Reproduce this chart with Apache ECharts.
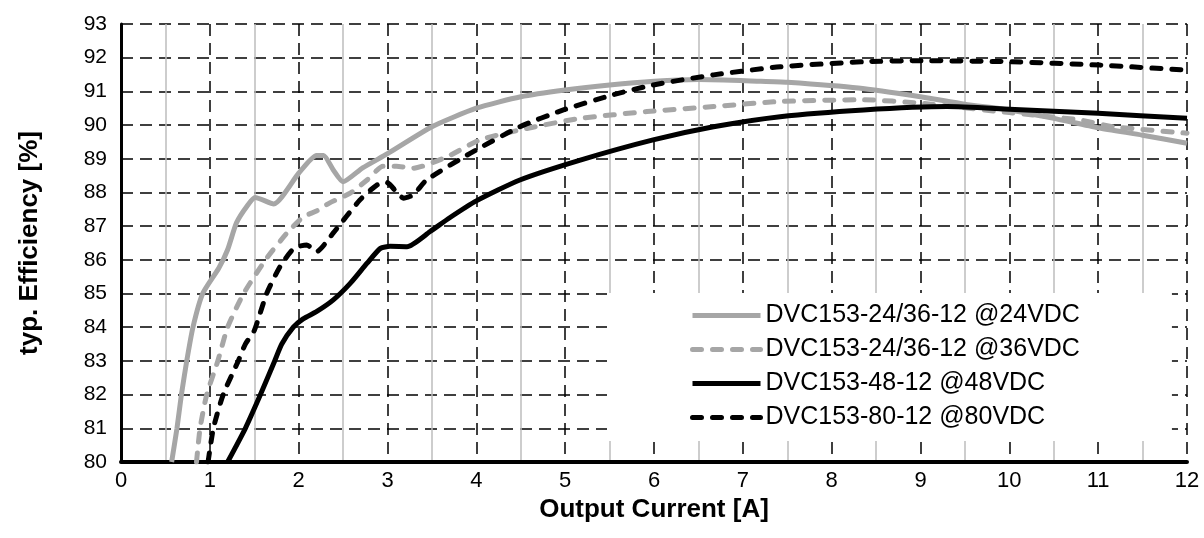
<!DOCTYPE html>
<html>
<head>
<meta charset="utf-8">
<script src="https://cdn.jsdelivr.net/npm/echarts@6/dist/echarts.min.js"></script>
<style>
  html, body { margin: 0; padding: 0; background: #fff; }
  #chart { width: 1204px; height: 538px; }
</style>
</head>
<body>
<div id="chart"></div>
<script>
'use strict'
// Achsen
var xTicks = [0, 1, 2, 3, 4, 5, 6, 7, 8, 9, 10, 11, 12];
var yTicks = [80, 81, 82, 83, 84, 85, 86, 87, 88, 89, 90, 91, 92, 93];
var seriesNames = ['DVC153-24/36-12 @24VDC', 'DVC153-24/36-12 @36VDC', 'DVC153-48-12 @48VDC', 'DVC153-80-12 @80VDC'];

// [Strom A, Wirkungsgrad %]
var eff24 = [[0.57,80],[0.63,81],[0.68,82],[0.74,83],[0.81,84],[0.92,85],[1.1,85.75],[1.2,86.3],[1.3,87.1],[1.42,87.6],[1.51,87.85],[1.72,87.66],[2.0,88.57],[2.2,89.1],[2.28,89.1],[2.39,88.67],[2.5,88.32],[2.72,88.73],[3.0,89.15],[3.5,89.95],[4.0,90.5],[4.5,90.84],[5.0,91.04],[5.5,91.19],[6.0,91.3],[6.5,91.35],[7.2,91.3],[7.5,91.27],[8.3,91.1],[9.0,90.84],[9.5,90.62],[10.0,90.45],[10.5,90.2],[11.0,89.92],[11.5,89.7],[12.0,89.46]];
var eff36 = [[0.85,80],[0.89,81],[0.965,82],[1.09,83],[1.2,84],[1.38,85],[1.64,86.05],[1.87,86.8],[2.05,87.27],[2.2,87.45],[2.35,87.69],[2.58,87.98],[2.77,88.37],[2.95,88.78],[3.1,88.78],[3.29,88.72],[3.67,89.06],[4.04,89.56],[4.57,89.9],[5.17,90.2],[5.92,90.4],[6.67,90.55],[7.42,90.7],[8.36,90.75],[9.0,90.65],[10.0,90.37],[10.8,90.15],[11.17,89.95],[12.0,89.76]];
var eff48 = [[1.2,80],[1.4,81],[1.57,82],[1.73,83],[1.81,83.5],[1.94,84],[2.05,84.25],[2.2,84.46],[2.39,84.81],[2.58,85.3],[2.77,85.9],[2.92,86.34],[3.03,86.4],[3.22,86.39],[3.48,86.84],[3.7,87.25],[4.0,87.75],[4.49,88.37],[5.17,88.96],[5.99,89.56],[6.67,89.95],[7.42,90.25],[8.36,90.45],[9.3,90.55],[10.0,90.47],[11.0,90.35],[12.0,90.2]];
var eff80 = [[0.98,80],[1.04,81],[1.15,82],[1.32,83],[1.4,83.5],[1.5,83.9],[1.64,85],[1.79,85.8],[1.95,86.35],[2.09,86.44],[2.2,86.24],[2.39,86.8],[2.69,87.78],[2.88,88.22],[2.99,88.3],[3.1,88.02],[3.18,87.83],[3.29,87.93],[3.44,88.37],[3.93,89.16],[4.49,89.95],[4.98,90.45],[5.54,90.9],[5.99,91.19],[6.67,91.49],[7.42,91.73],[8.36,91.88],[9.0,91.91],[10.0,91.88],[11.02,91.78],[12.0,91.63]];

var FONT = 'Liberation Sans, Arial, sans-serif';
var GRAY = '#a6a6a6';

function mkSeries(name, data, color, dashed) {
    return {
        name: name,
        type: 'line',
        data: data,
        symbol: 'none',
        smooth: 0.2,
        lineStyle: {
            color: color,
            width: 5,
            type: dashed ? [9, 11] : 'solid',
            cap: dashed ? 'round' : 'butt',
            join: 'round'
        },
        itemStyle: { color: color },
        z: 3
    };
}

var chart = echarts.init(document.getElementById('chart'));
var option = {
    animation: false,
    backgroundColor: '#fff',
    textStyle: { fontFamily: FONT },
    grid: { left: 121, right: 17, top: 24, bottom: 76 },
    xAxis: {
        type: 'value',
        min: xTicks[0],
        max: xTicks[xTicks.length - 1],
        interval: 1,
        name: 'Output Current [A]',
        nameLocation: 'middle',
        nameGap: 35,
        nameTextStyle: { fontSize: 26, fontWeight: 'bold', color: '#000', fontFamily: FONT },
        axisLine: { show: true, lineStyle: { color: '#000', width: 4 } },
        axisTick: { show: false },
        axisLabel: { fontSize: 22, color: '#000', margin: 8, fontFamily: FONT },
        splitLine: { show: true, lineStyle: { color: '#000', width: 1.5, type: [12, 7] } },
        minorTick: { show: false, splitNumber: 2 },
        minorSplitLine: { show: true, lineStyle: { color: '#bdbdbd', width: 1.5 } }
    },
    yAxis: {
        type: 'value',
        min: yTicks[0],
        max: yTicks[yTicks.length - 1],
        interval: 1,
        name: 'typ. Efficiency [%]',
        nameLocation: 'middle',
        nameGap: 78,
        nameTextStyle: { fontSize: 26, fontWeight: 'bold', color: '#000', fontFamily: FONT },
        axisLine: { show: true, lineStyle: { color: '#000', width: 3 } },
        axisTick: { show: false },
        axisLabel: { fontSize: 21, color: '#000', margin: 14, fontFamily: FONT },
        splitLine: { show: true, lineStyle: { color: '#000', width: 1.5, type: [12, 7] } }
    },
    legend: {
        orient: 'vertical',
        left: 607,
        top: 293,
        backgroundColor: '#fff',
        padding: [10, 92, 11, 83],
        itemWidth: 68,
        itemHeight: 22,
        itemGap: 9,
        itemStyle: { opacity: 0 },
        lineStyle: { width: 5 },
        textStyle: { fontSize: 25, color: '#000', fontFamily: FONT },
        data: seriesNames
    },
    series: [
        mkSeries(seriesNames[0], eff24, GRAY, false),
        mkSeries(seriesNames[1], eff36, GRAY, true),
        mkSeries(seriesNames[2], eff48, '#000', false),
        mkSeries(seriesNames[3], eff80, '#000', true)
    ]
};
chart.setOption(option);
window.onresize = chart.resize;
</script>
</body>
</html>
